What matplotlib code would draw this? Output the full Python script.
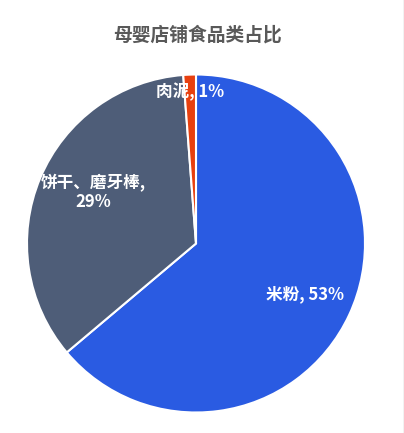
import matplotlib.pyplot as plt
import numpy as np
from matplotlib.lines import Line2D

plt.rcParams['font.family'] = ['Noto Sans CJK SC', 'DejaVu Sans']

categories = ["米粉", "饼干、磨牙棒", "肉泥"]
values = [53, 29, 1]
labels = ["米粉, 53%", "饼干、磨牙棒,\n29%", "肉泥, 1%"]
colors = ["#2A5BE2", "#4E5D78", "#E8400F"]
label_r = [0.71, 0.68, 0.90]
label_shift = [0, -3.5, 0]  # degrees

fig = plt.figure(figsize=(4.04, 4.33), dpi=100)
ax = fig.add_axes([27 / 404, 20.5 / 433, 338 / 404, 338 / 433])

wedges, _ = ax.pie(values, colors=colors, startangle=90, counterclock=False,
                   wedgeprops=dict(edgecolor="white", linewidth=1.5))
ax.set_xlim(-1, 1)
ax.set_ylim(-1, 1)
ax.set_aspect("equal")

for w, lab, r, s in zip(wedges, labels, label_r, label_shift):
    ang = np.deg2rad((w.theta1 + w.theta2) / 2 + s)
    ax.text(r * np.cos(ang), r * np.sin(ang), lab, ha="center", va="center",
            color="white", fontsize=12, fontweight="bold", linespacing=1.05)

fig.text(197 / 404, 1 - 35 / 433, "母婴店铺食品类占比", ha="center", va="center",
         fontsize=13.5, fontweight="bold", color="#595959")

fig.add_artist(Line2D([403.5 / 404, 403.5 / 404], [0, 1], color="#222222", linewidth=0.8))

fig.savefig("out.png", dpi=100)
